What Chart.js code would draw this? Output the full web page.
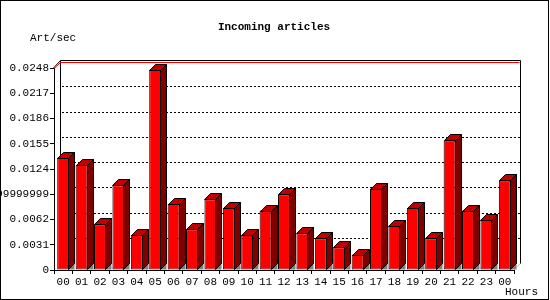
<!DOCTYPE html>
<html>
<head>
<meta charset="utf-8">
<script src="https://cdn.jsdelivr.net/npm/chart.js@4/dist/chart.umd.min.js"></script>
<style>
  html, body { margin: 0; padding: 0; background: #fff; }
  canvas { display: block; }
</style>
</head>
<body>
<canvas id="chart" width="550" height="300"></canvas>
<script>
// hour buckets (last one wraps back to 00)
const hours = ['00', '01', '02', '03', '04', '05', '06', '07', '08', '09', '10', '11',
  '12', '13', '14', '15', '16', '17', '18', '19', '20', '21', '22', '23', '00'];

// articles per second
const artPerSec = [0.0138, 0.0129, 0.0056, 0.0104, 0.0043, 0.0246, 0.0081, 0.0050,
  0.0087, 0.0076, 0.0043, 0.0073, 0.0093, 0.0045, 0.0039, 0.0028, 0.0019, 0.0100,
  0.0054, 0.0076, 0.0039, 0.0159, 0.0073, 0.0062, 0.0110];

// y ticks and the labels exactly as printed
const yTickValues = [0, 0.0031, 0.0062, 0.0093, 0.0124, 0.0155, 0.0186, 0.0217, 0.0248];
const yTickLabels = ['0', '0.0031', '0.0062', '0.00929999999999', '0.0124', '0.0155',
  '0.0186', '0.0217', '0.0248'];

const FONT = 'Liberation Mono, DejaVu Sans Mono, monospace';
const DEPTH = 6;

// back wall, dotted grid and max line, drawn behind the bars
const backWall = {
  id: 'backWall',
  beforeDatasetsDraw(chart) {
    const { ctx, chartArea: a, scales: { y } } = chart;
    ctx.save();
    ctx.lineWidth = 1;

    // dotted grid on the back wall
    ctx.strokeStyle = '#000';
    ctx.setLineDash([2, 2]);
    yTickValues.forEach(v => {
      if (v === 0 || v === yTickValues[yTickValues.length - 1]) return;
      const py = Math.round(y.getPixelForValue(v)) - DEPTH - 0.5;
      ctx.beginPath();
      ctx.moveTo(a.left + DEPTH + 2, py);
      ctx.lineTo(a.right + DEPTH, py);
      ctx.stroke();
    });
    ctx.setLineDash([]);

    // wall outline
    const top = Math.round(a.top);
    const bx = Math.round(a.left) + DEPTH + 0.5;
    const rx = Math.round(a.right) + DEPTH + 0.5;
    ctx.beginPath();
    ctx.moveTo(Math.round(a.left) - 0.5, top);
    ctx.lineTo(bx, top - 7.5);
    ctx.lineTo(rx, top - 7.5);
    ctx.lineTo(rx, Math.round(a.bottom) - DEPTH);
    ctx.moveTo(bx, top - 7.5);
    ctx.lineTo(bx, Math.round(a.bottom) - DEPTH);
    ctx.stroke();

    // floor right edge
    ctx.strokeStyle = '#c0c0c0';
    ctx.beginPath();
    ctx.moveTo(Math.round(a.right), Math.round(a.bottom) - 0.5);
    ctx.lineTo(rx, Math.round(a.bottom) - DEPTH - 0.5);
    ctx.stroke();

    // red max line
    const my = Math.round(y.getPixelForValue(y.max));
    ctx.strokeStyle = '#ff0000';
    ctx.beginPath();
    ctx.moveTo(Math.round(a.left), my + 0.5);
    ctx.lineTo(bx, my - DEPTH + 0.5);
    ctx.lineTo(rx - 1, my - DEPTH + 0.5);
    ctx.stroke();
    ctx.restore();
  },
  // top and side faces of each bar
  afterDatasetsDraw(chart) {
    const { ctx } = chart;
    const meta = chart.getDatasetMeta(0);
    ctx.save();
    ctx.lineWidth = 1;
    ctx.strokeStyle = '#000';
    meta.data.forEach(bar => {
      const l = Math.round(bar.x - bar.width / 2) + 0.5;
      const r = Math.round(bar.x + bar.width / 2) - 0.5;
      const t = Math.round(bar.y) + 0.5;
      const b = Math.round(bar.base) - 0.5;
      const d = DEPTH;

      // floor shadow
      ctx.fillStyle = '#808080';
      ctx.beginPath();
      ctx.moveTo(r, b);
      ctx.lineTo(r + d, b - d);
      ctx.lineTo(r + d, b);
      ctx.closePath();
      ctx.fill();

      // side
      ctx.fillStyle = '#800000';
      ctx.beginPath();
      ctx.moveTo(r, t);
      ctx.lineTo(r + d, t - d);
      ctx.lineTo(r + d, b - d);
      ctx.lineTo(r, b);
      ctx.closePath();
      ctx.fill();
      ctx.stroke();

      // top
      ctx.fillStyle = '#c00000';
      ctx.beginPath();
      ctx.moveTo(l, t);
      ctx.lineTo(l + d, t - d);
      ctx.lineTo(r + d, t - d);
      ctx.lineTo(r, t);
      ctx.closePath();
      ctx.fill();
      ctx.stroke();
    });
    ctx.restore();
  },
  afterDraw(chart) {
    const { ctx } = chart;
    ctx.save();
    ctx.fillStyle = '#000';
    ctx.textBaseline = 'middle';
    ctx.textAlign = 'center';
    ctx.font = 'bold 11px ' + FONT;
    ctx.fillText('Incoming articles', 274, 27);
    ctx.textAlign = 'left';
    ctx.font = '11px ' + FONT;
    ctx.fillText('Art/sec', 30, 38);
    ctx.fillText('Hours', 505, 292);
    // outer frame
    ctx.strokeStyle = '#000';
    ctx.lineWidth = 1;
    ctx.strokeRect(0.5, 0.5, 548, 299);
    ctx.restore();
  }
};

new Chart(document.getElementById('chart'), {
  type: 'bar',
  data: {
    labels: hours,
    datasets: [{
      data: artPerSec,
      backgroundColor: '#ff0000',
      borderColor: '#000',
      borderWidth: 1,
      borderSkipped: false,
      barPercentage: 1,
      categoryPercentage: 0.65
    }]
  },
  options: {
    responsive: false,
    animation: false,
    devicePixelRatio: 1,
    layout: { padding: { left: 0, top: 68, right: 36, bottom: 0 } },
    plugins: {
      legend: { display: false },
      title: { display: false },
      tooltip: { enabled: false }
    },
    scales: {
      x: {
        afterFit(scale) { scale.height = 30; },
        grid: { display: true, drawOnChartArea: false, tickLength: 4, color: '#000' },
        border: { display: true, color: '#000' },
        ticks: {
          color: '#000',
          font: { family: FONT, size: 11 },
          padding: 1,
          maxRotation: 0,
          autoSkip: false
        }
      },
      y: {
        min: 0,
        max: 0.0248,
        afterFit(scale) { scale.width = 54; },
        afterBuildTicks(scale) {
          scale.ticks = yTickValues.map(v => ({ value: v }));
        },
        grid: { display: true, drawOnChartArea: false, tickLength: 4, color: '#000' },
        border: { display: true, color: '#000' },
        ticks: {
          color: '#000',
          font: { family: FONT, size: 11 },
          padding: 1,
          autoSkip: false,
          callback: (value, index) => yTickLabels[index]
        }
      }
    }
  },
  plugins: [backWall]
});
</script>
</body>
</html>
